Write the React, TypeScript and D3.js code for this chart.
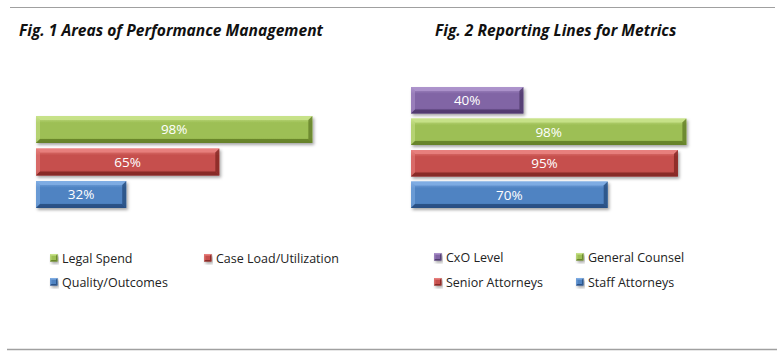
import React, { useEffect, useRef } from 'react';
import * as d3 from 'd3';

// Fig. 1
const areaCategories = ['Legal Spend', 'Case Load/Utilization', 'Quality/Outcomes'];
const areaValues = [98, 65, 32];
const areaColors = ['green', 'red', 'blue'];

// Fig. 2
const reportingCategories = ['CxO Level', 'General Counsel', 'Senior Attorneys', 'Staff Attorneys'];
const reportingValues = [40, 98, 95, 70];
const reportingColors = ['purple', 'green', 'red', 'blue'];

const palette: Record<string, { light: string; base: string; dark: string; edge: string }> = {
  green: { light: '#c8e28a', base: '#9dbf55', dark: '#7f9e3a', edge: '#5f7a24' },
  red: { light: '#e8817e', base: '#c6504d', dark: '#a63a37', edge: '#7d2422' },
  blue: { light: '#80ade3', base: '#4f83c2', dark: '#3a6aa6', edge: '#24497a' },
  purple: { light: '#ad94cc', base: '#8165a5', dark: '#694f8c', edge: '#4a3566' },
};

const FONT = '"Open Sans", "Noto Sans", sans-serif';

export default function App() {
  const svgRef = useRef<SVGSVGElement>(null);

  useEffect(() => {
    if (!svgRef.current) return;
    const svg = d3.select(svgRef.current);
    svg.selectAll('*').remove();

    const defs = svg.append('defs');
    Object.entries(palette).forEach(([k, c]) => {
      const g = defs.append('linearGradient')
        .attr('id', `grad-${k}`)
        .attr('x1', 0).attr('y1', 0).attr('x2', 0).attr('y2', 1);
      g.append('stop').attr('offset', '0%').attr('stop-color', c.light);
      g.append('stop').attr('offset', '25%').attr('stop-color', c.base);
      g.append('stop').attr('offset', '80%').attr('stop-color', c.base);
      g.append('stop').attr('offset', '100%').attr('stop-color', c.dark);
    });
    const shadow = defs.append('filter').attr('id', 'shadow')
      .attr('x', '-5%').attr('y', '-20%').attr('width', '115%').attr('height', '160%');
    shadow.append('feDropShadow')
      .attr('dx', 1.5).attr('dy', 2).attr('stdDeviation', 1.5)
      .attr('flood-color', '#000').attr('flood-opacity', 0.35);

    // frame lines
    svg.append('line').attr('x1', 10).attr('x2', 775).attr('y1', 7.5).attr('y2', 7.5)
      .attr('stroke', '#a0a0a0').attr('stroke-width', 1.2);
    svg.append('line').attr('x1', 7).attr('x2', 777).attr('y1', 349.5).attr('y2', 349.5)
      .attr('stroke', '#a0a0a0').attr('stroke-width', 1.5);

    const bevelBar = (
      g: d3.Selection<SVGGElement, unknown, null, undefined>,
      x: number, y: number, w: number, h: number, key: string, b: number,
    ) => {
      const c = palette[key];
      const bar = g.append('g').attr('filter', 'url(#shadow)');
      bar.append('rect').attr('x', x).attr('y', y).attr('width', w).attr('height', h)
        .attr('fill', `url(#grad-${key})`);
      // top bevel
      bar.append('polygon')
        .attr('points', `${x},${y} ${x + w},${y} ${x + w - b},${y + b} ${x + b},${y + b}`)
        .attr('fill', c.light).attr('opacity', 0.9);
      // left bevel
      bar.append('polygon')
        .attr('points', `${x},${y} ${x + b},${y + b} ${x + b},${y + h - b} ${x},${y + h}`)
        .attr('fill', c.light).attr('opacity', 0.55);
      // right bevel
      bar.append('polygon')
        .attr('points', `${x + w},${y} ${x + w},${y + h} ${x + w - b},${y + h - b} ${x + w - b},${y + b}`)
        .attr('fill', c.edge).attr('opacity', 0.75);
      // bottom bevel
      bar.append('polygon')
        .attr('points', `${x},${y + h} ${x + w},${y + h} ${x + w - b},${y + h - b} ${x + b},${y + h - b}`)
        .attr('fill', c.edge).attr('opacity', 0.8);
    };

    const drawPanel = (
      title: string, titleX: number,
      cats: string[], vals: number[], cols: string[],
      xRange: [number, number], yRange: [number, number], pad: number,
      legendCols: number[], legendRows: number[],
    ) => {
      const g = svg.append('g');
      g.append('text').attr('x', titleX).attr('y', 36)
        .attr('font-family', FONT).attr('font-size', 15.6)
        .attr('font-weight', 700).attr('font-style', 'italic')
        .attr('fill', '#111').text(title);

      const x = d3.scaleLinear().domain([0, 100]).range(xRange);
      const y = d3.scaleBand<string>().domain(cats).range(yRange).padding(pad);

      cats.forEach((cat, i) => {
        const bx = x(0);
        const bw = x(vals[i]) - x(0);
        const by = y(cat)!;
        const bh = y.bandwidth();
        bevelBar(g, bx, by, bw, bh, cols[i], 4);
        g.append('text')
          .attr('x', bx + bw / 2).attr('y', by + bh / 2)
          .attr('dy', '0.36em').attr('text-anchor', 'middle')
          .attr('font-family', FONT).attr('font-size', 13.5)
          .attr('fill', '#fff').text(`${vals[i]}%`);
      });

      // legend
      cats.forEach((cat, i) => {
        const lx = legendCols[i % 2];
        const ly = legendRows[Math.floor(i / 2)];
        bevelBar(g, lx, ly - 4, 7.5, 7.5, cols[i], 1.5);
        g.append('text').attr('x', lx + 12).attr('y', ly)
          .attr('dy', '0.36em')
          .attr('font-family', FONT).attr('font-size', 12.5)
          .attr('fill', '#222').text(cat);
      });
    };

    drawPanel('Fig. 1 Areas of Performance Management', 19,
      areaCategories, areaValues, areaColors,
      [36, 318], [110.5, 213.5], 0.17, [50, 204], [258, 282]);

    drawPanel('Fig. 2 Reporting Lines for Metrics', 435,
      reportingCategories, reportingValues, reportingColors,
      [411, 692], [82, 213], 0.16, [434, 576], [257, 282]);
  }, []);

  return (
    <svg
      ref={svgRef}
      width={782}
      height={354}
      viewBox="0 0 782 354"
      style={{ position: 'absolute', left: 0, top: 0, background: '#fff' }}
    />
  );
}
